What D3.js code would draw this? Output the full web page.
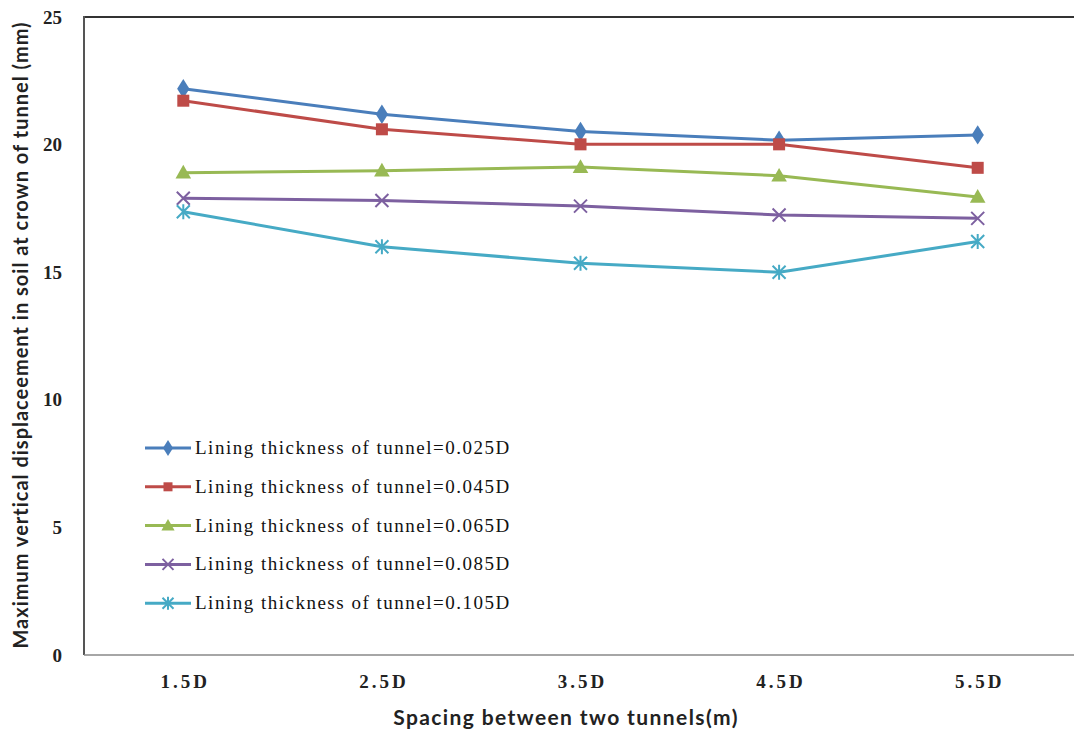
<!DOCTYPE html>
<html><head><meta charset="utf-8">
<script src="https://cdn.jsdelivr.net/npm/d3@7"></script>
<style>html,body{margin:0;padding:0;background:#fff;}svg{display:block;}</style>
</head><body>
<script>
const categories = ["1.5D","2.5D","3.5D","4.5D","5.5D"];
const yTicks = [0,5,10,15,20,25];
const seriesNames = [
  "Lining thickness of tunnel=0.025D",
  "Lining thickness of tunnel=0.045D",
  "Lining thickness of tunnel=0.065D",
  "Lining thickness of tunnel=0.085D",
  "Lining thickness of tunnel=0.105D"
];
const s025 = [22.19, 21.19, 20.51, 20.17, 20.38];
const s045 = [21.72, 20.6, 20.01, 20.01, 19.09];
const s065 = [18.9, 18.98, 19.12, 18.78, 17.95];
const s085 = [17.9, 17.81, 17.59, 17.24, 17.11];
const s105 = [17.37, 16.0, 15.35, 15.0, 16.2];
const seriesValues = [s025, s045, s065, s085, s105];
const colors = ["#4a7ebb","#be4b48","#98b954","#7d60a0","#46aac5"];
const symbols = ["diamond","square","triangle","x","star"];

const W = 1074, H = 731;
const svg = d3.select("body").append("svg").attr("width", W).attr("height", H);

const pLeft = 84, pTop = 17, pBottom = 655, pRight = 1074;
const x = d3.scalePoint().domain(categories).range([pLeft, 1077]).padding(0.5);
const y = d3.scaleLinear().domain([0, 25]).range([pBottom, pTop]);

// frame
svg.append("line").attr("x1", pLeft).attr("x2", pRight).attr("y1", pTop).attr("y2", pTop)
  .attr("stroke", "#333").attr("stroke-width", 2);
svg.append("line").attr("x1", pLeft).attr("x2", pLeft).attr("y1", pTop-1).attr("y2", pBottom)
  .attr("stroke", "#555").attr("stroke-width", 2);
svg.append("line").attr("x1", pLeft).attr("x2", pRight).attr("y1", pBottom).attr("y2", pBottom)
  .attr("stroke", "#888").attr("stroke-width", 1.5);

// axes
const yAxis = d3.axisLeft(y).tickValues(yTicks).tickSize(0).tickPadding(22);
const gy = svg.append("g").attr("transform", `translate(${pLeft},0)`).call(yAxis);
gy.select(".domain").remove();
gy.selectAll("text").attr("font-family", "Liberation Serif").attr("font-weight", "bold")
  .attr("font-size", 19).attr("fill", "#222");

const xAxis = d3.axisBottom(x).tickSize(0).tickPadding(20);
const gx = svg.append("g").attr("transform", `translate(0,${pBottom})`).call(xAxis);
gx.select(".domain").remove();
gx.selectAll("text").attr("font-family", "Liberation Serif").attr("font-weight", "bold")
  .attr("font-size", 19).attr("fill", "#222").attr("letter-spacing", 3).attr("dx", 1.5);

// titles
svg.append("text").attr("x", 566).attr("y", 725).attr("text-anchor", "middle")
  .attr("font-family", "Lato").attr("font-weight", "bold").attr("font-size", 21).attr("fill", "#222")
  .attr("letter-spacing", 1.4)
  .text("Spacing between two tunnels(m)");
svg.append("text").attr("transform", "translate(28,335) rotate(-90)").attr("text-anchor", "middle")
  .attr("font-family", "Lato").attr("font-weight", "bold").attr("font-size", 20).attr("fill", "#222")
  .attr("letter-spacing", 1)
  .text("Maximum vertical displaceement in soil at crown of tunnel (mm)");

function drawMarker(g, type, color, size) {
  if (type === "diamond") {
    g.append("path").attr("d", d3.symbol(d3.symbolDiamond, size*size*0.9)()).attr("fill", color)
      .attr("transform", "scale(1.1,1)");
  } else if (type === "square") {
    g.append("rect").attr("x", -size/2).attr("y", -size/2).attr("width", size).attr("height", size).attr("fill", color);
  } else if (type === "triangle") {
    g.append("path").attr("d", `M0,${-size*0.6}L${size*0.6},${size*0.45}L${-size*0.6},${size*0.45}Z`).attr("fill", color);
  } else if (type === "x") {
    const s = size*0.5;
    g.append("path").attr("d", `M${-s},${-s}L${s},${s}M${-s},${s}L${s},${-s}`).attr("stroke", color).attr("stroke-width", 2);
  } else if (type === "star") {
    const s = size*0.5;
    g.append("path").attr("d", `M${-s},${-s}L${s},${s}M${-s},${s}L${s},${-s}M0,${-s-1}L0,${s+1}`).attr("stroke", color).attr("stroke-width", 2);
  }
}

const line = d3.line().x((d,i) => x(categories[i])).y(d => y(d));
seriesValues.forEach((vals, si) => {
  svg.append("path").datum(vals).attr("d", line).attr("fill", "none")
    .attr("stroke", colors[si]).attr("stroke-width", 3).attr("stroke-linejoin", "round");
  vals.forEach((v, i) => {
    const g = svg.append("g").attr("transform", `translate(${x(categories[i])},${y(v)})`);
    drawMarker(g, symbols[si], colors[si], si === 0 ? 11 : (si === 1 ? 12 : 13));
  });
});

// legend
const legendX = 145, legendY0 = 448, legendStep = 38.8;
seriesNames.forEach((name, si) => {
  const ly = legendY0 + si*legendStep;
  svg.append("line").attr("x1", legendX).attr("x2", legendX+46).attr("y1", ly).attr("y2", ly)
    .attr("stroke", colors[si]).attr("stroke-width", 3);
  const g = svg.append("g").attr("transform", `translate(${legendX+23},${ly})`);
  drawMarker(g, symbols[si], colors[si], si < 2 ? 9 : 11);
  svg.append("text").attr("x", legendX+50).attr("y", ly+6).attr("font-family", "Liberation Serif")
    .attr("font-size", 19).attr("letter-spacing", 1.5).attr("fill", "#111").text(name);
});
</script>
</body></html>
